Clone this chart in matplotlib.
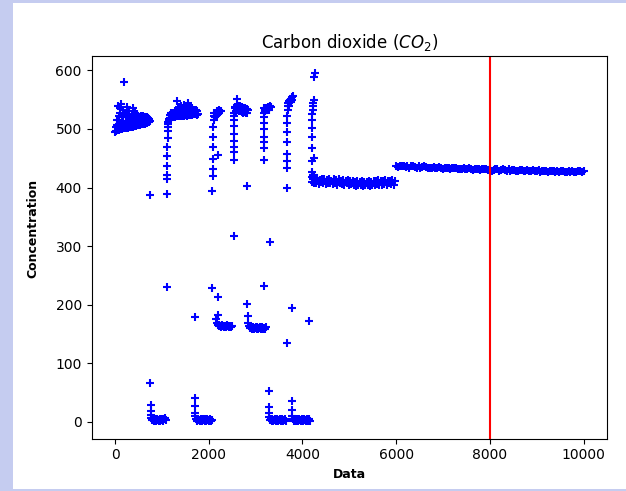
import matplotlib
matplotlib.use('Agg')
import matplotlib.pyplot as plt
from matplotlib.patches import Rectangle

# Points, groupe par groupe (x = indice, y = concentration)
a_low_x = [0, 30, 60, 90, 120, 150, 180, 210, 240, 270, 300, 330, 360, 390, 420, 450, 480, 510, 540, 570, 600, 630, 660, 690, 720, 745]
a_low_y = [495, 497, 498, 499, 500, 500, 501, 501, 502, 502, 503, 503, 504, 504, 505, 505, 506, 506, 507, 508, 508, 509, 510, 511, 512, 513]
a_mid_x = [15, 45, 75, 105, 135, 165, 195, 225, 255, 285, 315, 345, 375, 405, 435, 465, 495, 525, 555, 585, 615, 645, 675, 705, 735]
a_mid_y = [503, 506, 509, 511, 508, 512, 509, 513, 510, 513, 511, 514, 512, 515, 513, 514, 516, 515, 517, 516, 518, 517, 519, 518, 517]
a_top_x = [50, 80, 110, 140, 170, 200, 240, 280, 320, 360, 400, 440, 480, 520, 560, 600, 640, 680]
a_top_y = [515, 522, 527, 520, 524, 528, 521, 525, 519, 523, 518, 522, 517, 521, 519, 522, 520, 521]
a_out_x = [70, 100, 130, 160, 200, 250, 300, 390, 430, 470, 550]
a_out_y = [540, 535, 543, 532, 580, 537, 530, 535, 528, 525, 522]

b_x = [750, 755, 760, 765, 770, 775, 790, 810, 830, 850, 870, 890, 910, 930, 950, 970, 990, 1010, 1030, 1050, 1070, 1090]
b_y = [388, 66, 29, 18, 11, 7, 3, 5, 2, 4, 1, 5, 3, 2, 4, 1, 3, 5, 2, 4, 6, 3]

c_x = [1110, 1110, 1115, 1115, 1120, 1120, 1120, 1125, 1125, 1130, 1135, 1140,
       1150, 1160, 1175, 1190, 1210, 1230, 1260, 1290, 1320, 1350, 1380, 1410, 1440, 1470, 1500, 1530, 1560, 1590, 1620, 1650, 1680, 1710, 1740, 1770,
       1170, 1200, 1240, 1280, 1320, 1360, 1400, 1440, 1480, 1520, 1560, 1600, 1640, 1680, 1720, 1760,
       1330, 1360, 1400, 1480, 1560, 1600, 1650]
c_y = [230, 389, 414, 422, 436, 453, 470, 484, 496, 503, 508, 512,
       515, 517, 518, 519, 520, 520, 521, 521, 522, 522, 523, 522, 523, 523, 524, 523, 524, 524, 525, 524, 525, 525, 524, 525,
       524, 527, 528, 530, 531, 530, 532, 531, 532, 533, 532, 533, 532, 533, 532, 531,
       547, 538, 540, 541, 545, 538, 536]

d_x = [1700, 1700, 1705, 1710, 1715, 1730, 1750, 1770, 1790, 1810, 1830, 1850, 1870, 1890, 1910, 1930, 1950, 1970, 1990, 2010, 2030, 2050, 2070]
d_y = [178, 40, 26, 15, 9, 4, 2, 5, 3, 1, 4, 2, 5, 3, 1, 4, 2, 5, 3, 2, 4, 1, 3]

e_x = [2080, 2080, 2085, 2085, 2090, 2090, 2095, 2100, 2105, 2110, 2120, 2190, 2190, 2190,
       2140, 2170, 2200, 2230, 2260, 2150, 2180, 2210, 2240]
e_y = [229, 394, 420, 431, 448, 470, 487, 504, 515, 522, 527, 213, 182, 455,
       520, 524, 526, 528, 530, 527, 530, 533, 531]
e2_x = [2165, 2170, 2190, 2210, 2230, 2250, 2270, 2290, 2310, 2330, 2350, 2370, 2390, 2410, 2430, 2450, 2470, 2490]
e2_y = [176, 168, 165, 163, 166, 164, 162, 165, 163, 161, 164, 162, 165, 163, 161, 164, 162, 163]

f_x = [2530, 2530, 2530, 2530, 2535, 2535, 2540, 2540, 2545, 2550, 2555,
       2570, 2600, 2630, 2660, 2690, 2720, 2750, 2780, 2810, 2840,
       2580, 2610, 2640, 2670, 2700, 2730, 2760, 2790, 2820, 2600]
f_y = [317, 447, 460, 470, 480, 492, 505, 515, 522, 528, 535,
       538, 541, 540, 539, 538, 537, 536, 535, 534, 533,
       530, 532, 531, 530, 529, 528, 529, 527, 528, 552]
f2_x = [2810, 2810, 2830, 2840, 2860, 2880, 2900, 2920, 2940, 2960, 2980, 3000, 3020, 3040, 3060, 3080, 3100, 3120, 3140, 3160, 3180, 3200, 3220]
f2_y = [402, 201, 180, 168, 163, 160, 162, 159, 161, 158, 160, 162, 159, 161, 158, 160, 162, 159, 161, 158, 160, 159, 161]

g_x = [3170, 3170, 3170, 3172, 3174, 3176, 3178, 3180, 3185, 3190, 3200, 3220, 3240, 3260, 3280, 3300, 3320, 3210, 3250, 3290]
g_y = [232, 447, 468, 478, 487, 500, 510, 520, 528, 535, 532, 536, 534, 538, 536, 539, 537, 530, 532, 533]
g2_x = [3300, 3280, 3280, 3285, 3290, 3300, 3320, 3340, 3360, 3380, 3400, 3420, 3440, 3460, 3480, 3500, 3520, 3540, 3560, 3580, 3600, 3620, 3640]
g2_y = [307, 53, 25, 15, 8, 3, 5, 2, 4, 1, 3, 5, 2, 4, 1, 3, 5, 2, 4, 1, 3, 5, 2]

h_x = [3665, 3665, 3665, 3665, 3668, 3670, 3672, 3675, 3680, 3685, 3690, 3700, 3720, 3740, 3760, 3780, 3790, 3710, 3750, 3770]
h_y = [135, 400, 434, 445, 458, 477, 494, 511, 522, 533, 540, 545, 548, 550, 552, 554, 556, 540, 546, 549]
h2_x = [3770, 3770, 3775, 3780, 3790, 3810, 3830, 3850, 3870, 3890, 3910, 3930, 3950, 3970, 3990, 4010, 4030, 4050, 4070, 4090, 4110, 4130, 4150, 4170]
h2_y = [194, 36, 20, 10, 4, 2, 5, 3, 1, 4, 2, 5, 3, 1, 4, 2, 5, 3, 1, 4, 2, 5, 3, 2]

i_x = [4150, 4200, 4200, 4202, 4205, 4205, 4210, 4212, 4215, 4220, 4225, 4230, 4240, 4250, 4250, 4260, 4210, 4230, 4250]
i_y = [172, 409, 426, 445, 467, 486, 502, 516, 525, 532, 540, 545, 550, 451, 588, 595, 418, 421, 422]

j1_x = [4220, 4270, 4320, 4370, 4420, 4470, 4520, 4570, 4620, 4670, 4720, 4770, 4820, 4870, 4920, 4970, 5020, 5070,
        5120, 5170, 5220, 5270, 5320, 5370, 5420, 5470, 5520, 5570, 5620, 5670, 5720, 5770, 5820, 5870, 5920, 5970]
j1_y = [415, 414, 416, 413, 415, 414, 413, 415, 412, 414, 413, 415, 412, 413, 411, 413, 411, 412,
        410, 411, 409, 411, 410, 409, 411, 410, 412, 411, 413, 412, 411, 413, 412, 411, 413, 412]
j2_x = [4245, 4295, 4345, 4395, 4445, 4495, 4545, 4595, 4645, 4695, 4745, 4795, 4845, 4895, 4945, 4995, 5045, 5095,
        5145, 5195, 5245, 5295, 5345, 5395, 5445, 5495, 5545, 5595, 5645, 5695, 5745, 5795, 5845, 5895, 5945]
j2_y = [407, 408, 406, 409, 407, 406, 408, 407, 406, 408, 405, 407, 406, 405, 407, 404, 406, 405,
        403, 405, 404, 403, 405, 404, 403, 405, 404, 406, 405, 404, 406, 405, 407, 406, 405]

k_x = [6000, 6080, 6160, 6240, 6320, 6400, 6480, 6560, 6640, 6720, 6800, 6880, 6960, 7040, 7120, 7200, 7280,
       7360, 7440, 7520, 7600, 7680, 7760, 7840, 7920, 8000, 8080, 8160, 8240, 8320, 8400, 8480, 8560, 8640,
       8720, 8800, 8880, 8960, 9040, 9120, 9200, 9280, 9360, 9440, 9520, 9600, 9680, 9760, 9840, 9920, 10000]
k_y = [437, 436, 437, 436, 436, 435, 436, 435, 435, 434, 435, 434, 434, 433, 434, 433, 433,
       432, 433, 432, 432, 431, 432, 431, 431, 431, 430, 431, 430, 430, 431, 430, 429, 430,
       429, 430, 429, 429, 430, 429, 428, 429, 428, 429, 428, 427, 428, 428, 427, 428, 428]
k2_x = [6040, 6120, 6200, 6280, 6360, 6440, 6520, 6600, 6680, 6760, 6840, 6920, 7000, 7080, 7160, 7240, 7320,
        7400, 7480, 7560, 7640, 7720, 7800, 7880, 7960, 8040, 8120, 8200, 8280, 8360, 8440, 8520, 8600, 8680,
        8760, 8840, 8920, 9000, 9080, 9160, 9240, 9320, 9400, 9480, 9560, 9640, 9720, 9800, 9880, 9960]
k2_y = [435, 437, 435, 434, 436, 434, 434, 436, 433, 434, 433, 435, 432, 433, 432, 434, 431,
        432, 431, 433, 430, 431, 430, 432, 430, 429, 431, 429, 431, 429, 428, 430, 428, 430,
        428, 428, 430, 428, 427, 429, 427, 428, 427, 426, 428, 426, 427, 426, 428, 427]

x_all = (a_low_x + a_mid_x + a_top_x + a_out_x + b_x + c_x + d_x + e_x + e2_x + f_x + f2_x
         + g_x + g2_x + h_x + h2_x + i_x + j1_x + j2_x + k_x + k2_x)
y_all = (a_low_y + a_mid_y + a_top_y + a_out_y + b_y + c_y + d_y + e_y + e2_y + f_y + f2_y
         + g_y + g2_y + h_y + h2_y + i_y + j1_y + j2_y + k_y + k2_y)

seuil = 8000

fig = plt.figure(figsize=(6.26, 4.91), dpi=100, facecolor='#c5ccf0')
# fond blanc de la figure (bordure bleutée autour)
fig.patches.append(Rectangle((13 / 626, 2 / 491), 613 / 626, 486 / 491,
                             transform=fig.transFigure, facecolor='white',
                             edgecolor='none', zorder=-5))
ax = fig.add_axes([0.1463, 0.1069, 0.8233, 0.7791])

ax.scatter(x_all, y_all, marker='+', color='blue')
ax.axvline(seuil, color='red')

ax.set_title("Carbon dioxide ($CO_2$)")
ax.set_xlabel("Data", fontweight='bold', fontsize=9)
ax.set_ylabel("Concentration", fontweight='bold', fontsize=9)
ax.yaxis.set_label_coords(-0.102, 0.55)

fig.savefig('out.png', dpi=100, facecolor=fig.get_facecolor())
